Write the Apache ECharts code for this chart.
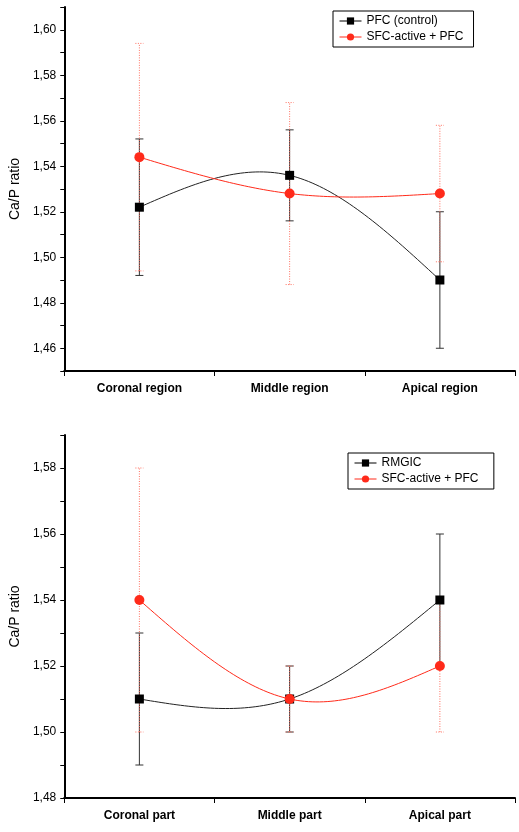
<!DOCTYPE html>
<html>
<head>
<meta charset="utf-8">
<script src="https://cdn.jsdelivr.net/npm/echarts@6/dist/echarts.min.js"></script>
<style>html,body{margin:0;background:#fff}#c{width:519px;height:832px}</style>
</head>
<body>
<div id="c"></div>
<script>
// top panel
const topCats = ['Coronal region', 'Middle region', 'Apical region']
const pfcMean = [1.522, 1.536, 1.490]
const pfcErr = [0.030, 0.020, 0.030]
const sfcTopMean = [1.544, 1.528, 1.528]
const sfcTopErr = [0.050, 0.040, 0.030]

// bottom panel
const botCats = ['Coronal part', 'Middle part', 'Apical part']
const rmgicMean = [1.51, 1.51, 1.54]
const rmgicErr = [0.02, 0.01, 0.02]
const sfcBotMean = [1.54, 1.51, 1.52]
const sfcBotErr = [0.04, 0.01, 0.02]

const FONT = 'Liberation Sans'
const RED = '#ff2a1a'

function errBars(idx, mean, err, color, dashed) {
  return {
    type: 'custom', xAxisIndex: idx, yAxisIndex: idx, z: 1,
    data: mean.map((m, i) => [i, m - err[i], m + err[i]]),
    renderItem(params, api) {
      const lo = api.coord([api.value(0), api.value(1)])
      const hi = api.coord([api.value(0), api.value(2)])
      const w = 4
      const style = { stroke: color, lineWidth: 1, lineDash: dashed ? [1, 1.5] : null }
      return {
        type: 'group', children: [
          { type: 'line', shape: { x1: lo[0], y1: lo[1], x2: hi[0], y2: hi[1] }, style },
          { type: 'line', shape: { x1: lo[0] - w, y1: lo[1], x2: lo[0] + w, y2: lo[1] }, style },
          { type: 'line', shape: { x1: hi[0] - w, y1: hi[1], x2: hi[0] + w, y2: hi[1] }, style },
        ]
      }
    }
  }
}

// natural cubic spline through the 3 points, drawn in pixel space
function splineCurve(idx, mean, color) {
  return {
    type: 'custom', xAxisIndex: idx, yAxisIndex: idx, z: 2,
    data: [0],
    renderItem(params, api) {
      const p = mean.map((m, i) => api.coord([i, m]))
      const h = p[1][0] - p[0][0]
      const y = p.map(q => q[1])
      const M = [0, 3 * (y[0] - 2 * y[1] + y[2]) / (2 * h * h), 0]
      const pts = []
      for (let s = 0; s < 2; s++) {
        for (let k = 0; k <= 40; k++) {
          const t = k / 40 * h
          const a = h - t
          const v = M[s] * a * a * a / (6 * h) + M[s + 1] * t * t * t / (6 * h)
            + (y[s] / h - M[s] * h / 6) * a + (y[s + 1] / h - M[s + 1] * h / 6) * t
          pts.push([p[s][0] + t, v])
        }
      }
      return { type: 'polyline', shape: { points: pts }, style: { stroke: color, lineWidth: 1, fill: null } }
    }
  }
}

function xAxis(idx, cats) {
  return {
    type: 'category', gridIndex: idx, data: cats, boundaryGap: true,
    axisLine: { lineStyle: { color: '#000', width: 2 } },
    axisTick: { show: true, inside: false, length: 5, lineStyle: { color: '#000' } },
    axisLabel: { color: '#000', fontFamily: FONT, fontWeight: 'bold', fontSize: 12, margin: 12 },
  }
}

function yAxis(idx, min, max) {
  return {
    type: 'value', gridIndex: idx, min, max, interval: 0.01,
    name: 'Ca/P ratio', nameLocation: 'middle', nameGap: 42,
    nameTextStyle: { color: '#000', fontFamily: FONT, fontSize: 14 },
    axisLine: { show: true, lineStyle: { color: '#000', width: 2 } },
    axisTick: { show: true, length: 4, lineStyle: { color: '#000' } },
    splitLine: { show: false },
    axisLabel: {
      color: '#000', fontFamily: FONT, fontSize: 12, margin: 8,
      formatter: v => {
        const k = Math.round(v * 100)
        if (k % 2 !== 0) return ''
        return (k / 100).toFixed(2).replace('.', ',')
      }
    }
  }
}

function marks(idx, name, data, color, symbol, size) {
  return {
    type: 'line', name, xAxisIndex: idx, yAxisIndex: idx, data, z: 3,
    symbol, symbolSize: size, color,
    lineStyle: { color, width: 1, opacity: 0 },
    itemStyle: { color }
  }
}

function legendItem(name, color) {
  return { name, lineStyle: { color, width: 1, opacity: 1 } }
}

const legendBase = {
  orient: 'vertical', itemGap: 4, itemWidth: 22, itemHeight: 9,
  borderColor: '#000', borderWidth: 1,
  textStyle: { color: '#000', fontFamily: FONT, fontSize: 12 }
}

const chart = echarts.init(document.getElementById('c'), null, { renderer: 'canvas' })
chart.setOption({
  animation: false,
  grid: [
    { left: 56, right: 4, top: 7, height: 364 },
    { left: 58, right: 4, top: 435, height: 363 },
  ],
  legend: [
    Object.assign({}, legendBase, {
      data: [legendItem('PFC (control)', '#000'), legendItem('SFC-active + PFC', RED)],
      left: 333, top: 11, padding: [4, 10, 4, 6]
    }),
    Object.assign({}, legendBase, {
      data: [legendItem('RMGIC', '#000'), legendItem('SFC-active + PFC ', RED)],
      left: 348, top: 453, padding: [4, 12, 4, 6]
    })
  ],
  xAxis: [xAxis(0, topCats), xAxis(1, botCats)],
  yAxis: [yAxis(0, 1.45, 1.61), yAxis(1, 1.48, 1.59)],
  series: [
    errBars(0, pfcMean, pfcErr, '#333', false),
    errBars(0, sfcTopMean, sfcTopErr, '#ff7060', true),
    splineCurve(0, pfcMean, '#222'),
    splineCurve(0, sfcTopMean, RED),
    marks(0, 'PFC (control)', pfcMean, '#000', 'rect', 9),
    marks(0, 'SFC-active + PFC', sfcTopMean, RED, 'circle', 10),
    errBars(1, rmgicMean, rmgicErr, '#333', false),
    errBars(1, sfcBotMean, sfcBotErr, '#ff7060', true),
    splineCurve(1, rmgicMean, '#222'),
    splineCurve(1, sfcBotMean, RED),
    marks(1, 'RMGIC', rmgicMean, '#000', 'rect', 9),
    marks(1, 'SFC-active + PFC ', sfcBotMean, RED, 'circle', 10),
  ]
})
</script>
</body>
</html>
